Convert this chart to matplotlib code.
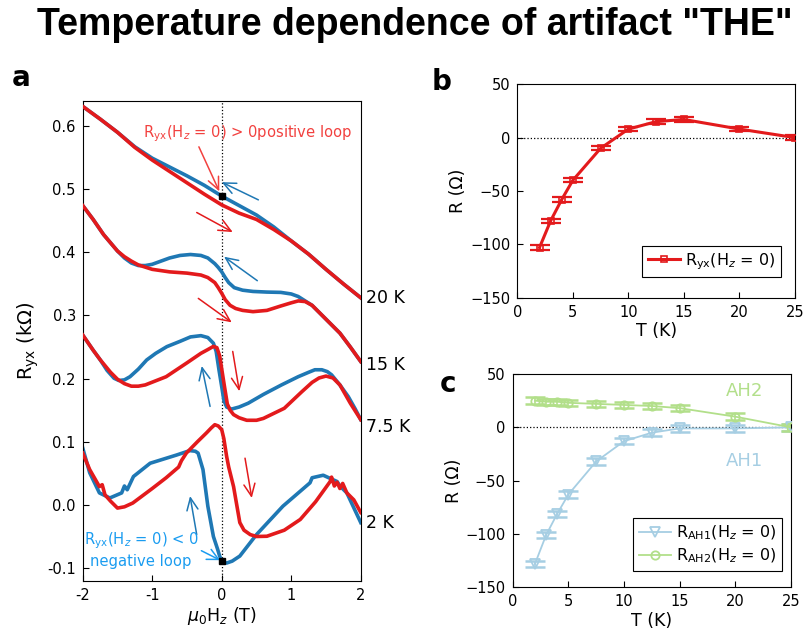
"""
Температурная зависимость артефактного сигнала THE: петли Ryx(H) и R(T)
"""

import matplotlib
matplotlib.use('Agg')
import matplotlib.pyplot as plt

plt.rcParams['font.family'] = ['DejaVu Sans']
plt.rcParams['mathtext.fontset'] = 'custom'
plt.rcParams['mathtext.rm'] = 'DejaVu Sans'
plt.rcParams['mathtext.it'] = 'DejaVu Sans:italic'

RED = '#e31a1c'
BLUE = '#1f78b4'
LIGHT_BLUE = '#a6cee3'
LIGHT_GREEN = '#b2df8a'

# --- панель a: петли Ryx(H), кОм ---
x_20k = [-2.0, -1.75, -1.5, -1.25, -1.0, -0.75, -0.5, -0.25, 0.0, 0.25, 0.5,
         0.75, 1.0, 1.25, 1.5, 1.75, 2.0]
red_20k = [0.631, 0.611, 0.590, 0.566, 0.546, 0.528, 0.510, 0.492, 0.475,
           0.462, 0.452, 0.436, 0.418, 0.397, 0.373, 0.350, 0.328]
blue_20k = [0.631, 0.611, 0.590, 0.567, 0.549, 0.535, 0.521, 0.506, 0.489,
            0.474, 0.459, 0.440, 0.418, 0.397, 0.373, 0.350, 0.328]

x_red_15k = [-2.0, -1.85, -1.7, -1.5, -1.4, -1.3, -1.2, -1.0, -0.75, -0.5,
             -0.3, -0.2, -0.1, -0.05, 0.0, 0.05, 0.12, 0.2, 0.3, 0.45, 0.65,
             0.85, 1.0, 1.1, 1.2, 1.3, 1.5, 1.7, 1.85, 2.0]
red_15k = [0.474, 0.452, 0.428, 0.402, 0.393, 0.386, 0.380, 0.373, 0.369,
           0.367, 0.364, 0.360, 0.352, 0.344, 0.335, 0.325, 0.316, 0.311,
           0.308, 0.306, 0.308, 0.315, 0.320, 0.323, 0.322, 0.316, 0.294,
           0.272, 0.250, 0.227]
x_blue_15k = [-2.0, -1.85, -1.7, -1.5, -1.4, -1.3, -1.2, -1.1, -1.0, -0.9,
              -0.75, -0.6, -0.45, -0.3, -0.2, -0.1, -0.05, 0.0, 0.05, 0.1,
              0.18, 0.3, 0.45, 0.65, 0.85, 1.0, 1.1, 1.2, 1.3, 1.5, 1.7, 1.85,
              2.0]
blue_15k = [0.474, 0.452, 0.428, 0.402, 0.391, 0.383, 0.379, 0.379, 0.381,
            0.385, 0.391, 0.395, 0.3965, 0.395, 0.391, 0.382, 0.376, 0.369,
            0.360, 0.352, 0.344, 0.340, 0.338, 0.337, 0.3365, 0.334, 0.330,
            0.323, 0.316, 0.294, 0.272, 0.250, 0.227]

x_red_7k = [-2.0, -1.85, -1.75, -1.6, -1.5, -1.4, -1.3, -1.2, -1.1, -0.8,
            -0.5, -0.3, -0.2, -0.12, -0.07, -0.03, 0.0, 0.04, 0.08, 0.12, 0.17,
            0.25, 0.36, 0.5, 0.6, 0.9, 1.15, 1.3, 1.4, 1.5, 1.6, 1.7, 1.85,
            2.0]
red_7k = [0.269, 0.245, 0.230, 0.210, 0.199, 0.192, 0.188, 0.188, 0.190, 0.203,
          0.225, 0.240, 0.246, 0.251, 0.249, 0.236, 0.215, 0.187, 0.160, 0.150,
          0.143, 0.138, 0.134, 0.134, 0.137, 0.153, 0.179, 0.194, 0.201, 0.204,
          0.201, 0.190, 0.161, 0.135]
x_blue_7k = [-2.0, -1.85, -1.75, -1.65, -1.55, -1.48, -1.4, -1.32, -1.2, -1.08,
             -0.95, -0.79, -0.6, -0.45, -0.3, -0.2, -0.12, -0.08, -0.04, 0.0,
             0.03, 0.07, 0.14, 0.25, 0.38, 0.6, 0.86, 1.1, 1.25, 1.34, 1.44,
             1.52, 1.58, 1.7, 1.82, 1.92, 2.0]
blue_7k = [0.269, 0.245, 0.230, 0.213, 0.2006, 0.197, 0.198, 0.203, 0.215,
           0.2295, 0.240, 0.2506, 0.259, 0.266, 0.268, 0.265, 0.256, 0.243,
           0.214, 0.187, 0.166, 0.155, 0.1517, 0.155, 0.161, 0.175, 0.190,
           0.203, 0.210, 0.214, 0.214, 0.211, 0.206, 0.190, 0.1716, 0.152,
           0.135]

x_red_2k = [-2.0, -1.9, -1.76, -1.72, -1.68, -1.6, -1.5, -1.4, -1.28, -1.0,
            -0.8, -0.62, -0.58, -0.51, -0.35, -0.22, -0.15, -0.1, -0.05, 0.0,
            0.03, 0.07, 0.1, 0.17, 0.26, 0.32, 0.41, 0.5, 0.65, 0.9, 1.13,
            1.35, 1.56, 1.58, 1.62, 1.66, 1.7, 1.74, 1.8, 1.9, 2.0]
red_2k = [0.082, 0.056, 0.029, 0.032, 0.016, 0.006, -0.005, -0.003, 0.003,
          0.026, 0.043, 0.060, 0.070, 0.082, 0.100, 0.114, 0.122, 0.127, 0.125,
          0.119, 0.105, 0.077, 0.060, 0.029, -0.028, -0.040, -0.047, -0.050,
          -0.0496, -0.040, -0.023, 0.005, 0.037, 0.044, 0.030, 0.036, 0.026,
          0.034, 0.019, 0.008, -0.012]
x_blue_2k = [-2.0, -1.9, -1.76, -1.61, -1.44, -1.4, -1.36, -1.27, -1.03, -0.65,
             -0.46, -0.38, -0.34, -0.27, -0.2, -0.12, -0.06, -0.03, 0.0, 0.03,
             0.07, 0.15, 0.26, 0.5, 0.88, 1.27, 1.3, 1.46, 1.66, 1.7, 1.8,
             2.0]
blue_2k = [0.090, 0.051, 0.019, 0.011, 0.019, 0.030, 0.024, 0.045, 0.066,
           0.079, 0.086, 0.085, 0.082, 0.056, -0.002, -0.050, -0.070, -0.081,
           -0.089, -0.091, -0.092, -0.089, -0.081, -0.047, -0.002, 0.035,
           0.043, 0.047, 0.037, 0.030, 0.019, -0.028]

temp_labels = ['20 K', '15 K', '7.5 K', '2 K']
temp_label_y = [0.327, 0.222, 0.124, -0.028]

# точки Ryx(Hz = 0), отмеченные на петлях
zero_field_x = [0.0, 0.0]
zero_field_y = [0.489, -0.089]

# --- панели b и c: R(T) при Hz = 0, Ом ---
temps = [2, 3, 4, 5, 7.5, 10, 12.5, 15, 20, 25]
r_yx = [-103, -78, -58, -40, -10, 8, 15, 17, 8, 0]
r_ah1 = [-128, -101, -81, -63, -32, -13, -5, -1, -1, 0]
r_ah2 = [25, 24, 24, 23, 22, 21, 20, 18, 10, 0]
err_yx = 2
err_ah = 3


def style_axes(ax):
    for spine in ax.spines.values():
        spine.set_linewidth(0.8)
    ax.tick_params(direction='in', length=4, width=0.8, labelsize=10.5,
                   top=False, right=False, pad=5)


def arrow(ax, start, end, color):
    ax.annotate('', xy=end, xytext=start,
                arrowprops=dict(arrowstyle='->,head_length=0.55,head_width=0.25',
                                color=color, lw=1.1, shrinkA=0, shrinkB=0,
                                mutation_scale=16))


fig = plt.figure(figsize=(8.04, 6.35), dpi=100)

fig.text(0.516, 0.960, 'Temperature dependence of artifact "THE"',
         ha='center', va='center', fontsize=27, fontweight='bold',
         family=['Liberation Sans Narrow', 'Liberation Sans'])

fig.text(0.015, 0.865, 'a', fontsize=20, fontweight='bold')
fig.text(0.537, 0.858, 'b', fontsize=20, fontweight='bold')
fig.text(0.547, 0.383, 'c', fontsize=20, fontweight='bold')

# панель a
ax_a = fig.add_axes([0.1029, 0.0855, 0.3458, 0.7559])
style_axes(ax_a)
ax_a.axvline(0, color='black', ls=':', lw=0.9, zorder=1)
loops = [
    (x_20k, blue_20k, x_20k, red_20k),
    (x_blue_15k, blue_15k, x_red_15k, red_15k),
    (x_blue_7k, blue_7k, x_red_7k, red_7k),
    (x_blue_2k, blue_2k, x_red_2k, red_2k),
]
for xb, yb, xr, yr in loops:
    ax_a.plot(xb, yb, color=BLUE, lw=2.6, solid_joinstyle='round', zorder=2)
    ax_a.plot(xr, yr, color=RED, lw=2.6, solid_joinstyle='round', zorder=3)
ax_a.plot(zero_field_x, zero_field_y, 's', color='black', ms=4.5, zorder=5)

for label, y in zip(temp_labels, temp_label_y):
    ax_a.text(2.07, y, label, fontsize=12.5, va='center', ha='left',
              clip_on=False)

ax_a.set_xlim(-2, 2)
ax_a.set_ylim(-0.12, 0.64)
ax_a.set_xticks([-2, -1, 0, 1, 2])
ax_a.set_yticks([-0.1, 0.0, 0.1, 0.2, 0.3, 0.4, 0.5, 0.6])
ax_a.set_yticklabels(['-0.1', '0.0', '0.1', '0.2', '0.3', '0.4', '0.5', '0.6'])
ax_a.set_xticklabels(['-2', '-1', '0', '1', '2'])
ax_a.set_xlabel(r'$\mu_0$H$_z$ (T)', fontsize=12.5, labelpad=2)
ax_a.set_ylabel(r'R$_{\mathrm{yx}}$ (kΩ)', fontsize=14, labelpad=4)

# стрелки направления развертки поля
arrow(ax_a, (0.527, 0.483), (0.0, 0.511), BLUE)
arrow(ax_a, (-0.36, 0.463), (0.158, 0.432), RED)
arrow(ax_a, (0.512, 0.355), (0.033, 0.393), BLUE)
arrow(ax_a, (-0.337, 0.327), (0.144, 0.289), RED)
arrow(ax_a, (0.158, 0.243), (0.253, 0.180), RED)
arrow(ax_a, (-0.168, 0.156), (-0.288, 0.220), BLUE)
arrow(ax_a, (0.335, 0.074), (0.432, 0.011), RED)
arrow(ax_a, (-0.36, -0.047), (-0.456, 0.014), BLUE)

ax_a.annotate(r'R$_{\mathrm{yx}}$(H$_z$ = 0) > 0positive loop',
              xy=(-0.035, 0.4965), xytext=(-1.13, 0.582),
              color='#f2413f', fontsize=10.6, ha='left', va='baseline',
              arrowprops=dict(arrowstyle='->,head_length=0.55,head_width=0.25',
                              color='#f2413f', lw=1.1, shrinkA=0, shrinkB=0,
                              mutation_scale=16, relpos=(0.26, 0.0)))
ax_a.annotate(r'R$_{\mathrm{yx}}$(H$_z$ = 0) < 0' + '\nnegative loop',
              xy=(-0.024, -0.0875), xytext=(-1.16, -0.071),
              color='#1a9cf0', fontsize=10.6, ha='center', va='center',
              multialignment='center',
              arrowprops=dict(arrowstyle='->,head_length=0.5,head_width=0.25',
                              color='#1a9cf0', lw=1.1, shrinkA=0, shrinkB=0,
                              mutation_scale=16, relpos=(0.93, 0.62)))

# панель b
ax_b = fig.add_axes([0.6434, 0.5312, 0.3454, 0.3361])
style_axes(ax_b)
ax_b.axhline(0, color='black', ls=':', lw=0.9, zorder=1)
ax_b.errorbar(temps, r_yx, yerr=err_yx, fmt='none', ecolor=RED,
              elinewidth=1.2, capsize=7.5, capthick=1.6, zorder=2)
ax_b.plot(temps, r_yx, '-s', color=RED, lw=2.2, ms=4.5, mfc='none', mew=1.2,
          label=r'R$_{\mathrm{yx}}$(H$_z$ = 0)', zorder=3)
ax_b.set_xlim(0, 25)
ax_b.set_ylim(-150, 50)
ax_b.set_xticks([0, 5, 10, 15, 20, 25])
ax_b.set_yticks([-150, -100, -50, 0, 50])
ax_b.set_xlabel('T (K)', fontsize=12.5, labelpad=2)
ax_b.set_ylabel('R (Ω)', fontsize=12.5, labelpad=2)
ax_b.legend(loc='lower right', bbox_to_anchor=(0.9485, 0.0956),
            borderaxespad=0, fontsize=11.5, fancybox=False, framealpha=1,
            edgecolor='black', handlelength=2.0, borderpad=0.35,
            handletextpad=0.3).get_frame().set_linewidth(0.8)

# панель c
ax_c = fig.add_axes([0.6377, 0.0751, 0.3461, 0.3359])
style_axes(ax_c)
ax_c.axhline(0, color='black', ls=':', lw=0.9, zorder=1)
ax_c.errorbar(temps, r_ah1, yerr=err_ah, fmt='none', ecolor=LIGHT_BLUE,
              elinewidth=1.2, capsize=7.5, capthick=1.8, zorder=2)
ax_c.errorbar(temps, r_ah2, yerr=err_ah, fmt='none', ecolor=LIGHT_GREEN,
              elinewidth=1.2, capsize=7.5, capthick=1.8, zorder=2)
ax_c.plot(temps, r_ah1, '-v', color=LIGHT_BLUE, lw=1.3, ms=7, mfc='none',
          mew=1.3, label=r'R$_{\mathrm{AH1}}$(H$_z$ = 0)', zorder=3)
ax_c.plot(temps, r_ah2, '-o', color=LIGHT_GREEN, lw=1.3, ms=6, mfc='none',
          mew=1.3, label=r'R$_{\mathrm{AH2}}$(H$_z$ = 0)', zorder=3)
ax_c.text(20.8, 34, 'AH2', color=LIGHT_GREEN, fontsize=13, ha='center',
          va='center')
ax_c.text(20.8, -31.6, 'AH1', color=LIGHT_BLUE, fontsize=13, ha='center',
          va='center')
ax_c.set_xlim(0, 25)
ax_c.set_ylim(-150, 50)
ax_c.set_xticks([0, 5, 10, 15, 20, 25])
ax_c.set_yticks([-150, -100, -50, 0, 50])
ax_c.set_xlabel('T (K)', fontsize=12.5, labelpad=2)
ax_c.set_ylabel('R (Ω)', fontsize=12.5, labelpad=2)
ax_c.legend(loc='lower right', bbox_to_anchor=(0.9666, 0.0778),
            borderaxespad=0, fontsize=11.5, fancybox=False, framealpha=1,
            edgecolor='black', handlelength=2.0, borderpad=0.35,
            handletextpad=0.3, labelspacing=0.3).get_frame().set_linewidth(0.8)

fig.savefig('out.png', dpi=100)
